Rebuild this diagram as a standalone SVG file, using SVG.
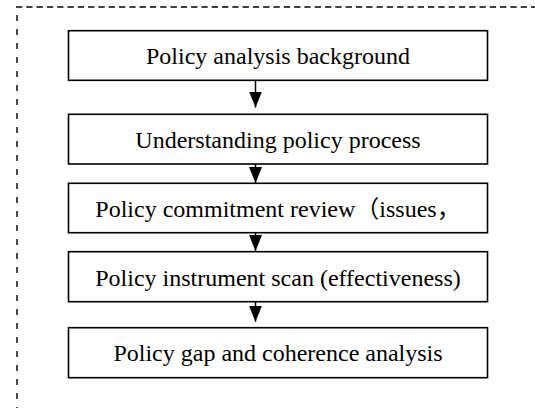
<svg xmlns="http://www.w3.org/2000/svg" width="535" height="408" viewBox="0 0 535 408">
<style>
.frame{fill:none;stroke:#000;stroke-width:1.4}
.box rect{fill:#fff;stroke:#000;stroke-width:1.6}
.box text{font-family:"Liberation Serif","Times New Roman","Noto Sans CJK SC",serif;font-size:24px;fill:#000;text-anchor:middle}
.conn line{stroke:#000;stroke-width:1.5;marker-end:url(#ah)}
</style>
<defs>
<marker id="ah" viewBox="0 0 16 13" refX="16" refY="6.5" markerWidth="16" markerHeight="13" markerUnits="userSpaceOnUse" orient="auto">
<path d="M0,0 L16,6.5 L0,13 Z" fill="#000"/>
</marker>
</defs>
<rect width="535" height="408" fill="#fff"/>
<g id="frame">
<line class="frame" x1="16" y1="7" x2="535" y2="7" stroke-dasharray="6.3 4"/>
<line class="frame" x1="17" y1="15" x2="17" y2="408" stroke-dasharray="6 8"/>
</g>
<g id="connectors" class="conn">
<line x1="255.5" y1="80.5" x2="255.5" y2="107.5"/>
<line x1="255.5" y1="164" x2="255.5" y2="183"/>
<line x1="255.5" y1="232.7" x2="255.5" y2="251"/>
<line x1="255.5" y1="301.7" x2="255.5" y2="321.7"/>
</g>
<g id="node1" class="box">
<rect x="68.5" y="30.7" width="419" height="49.6"/>
<text x="278" y="64">Policy analysis background</text>
</g>
<g id="node2" class="box">
<rect x="68.5" y="114.3" width="419" height="49.7"/>
<text x="278" y="147.5">Understanding policy process</text>
</g>
<g id="node3" class="box">
<rect x="68.5" y="183.3" width="419" height="49.4"/>
<text x="278" y="217">Policy commitment review（issues，</text>
</g>
<g id="node4" class="box">
<rect x="68.5" y="251.7" width="419" height="50"/>
<text x="278" y="285.5">Policy instrument scan (effectiveness)</text>
</g>
<g id="node5" class="box">
<rect x="68.5" y="327.7" width="419" height="50"/>
<text x="278" y="361">Policy gap and coherence analysis</text>
</g>
</svg>
